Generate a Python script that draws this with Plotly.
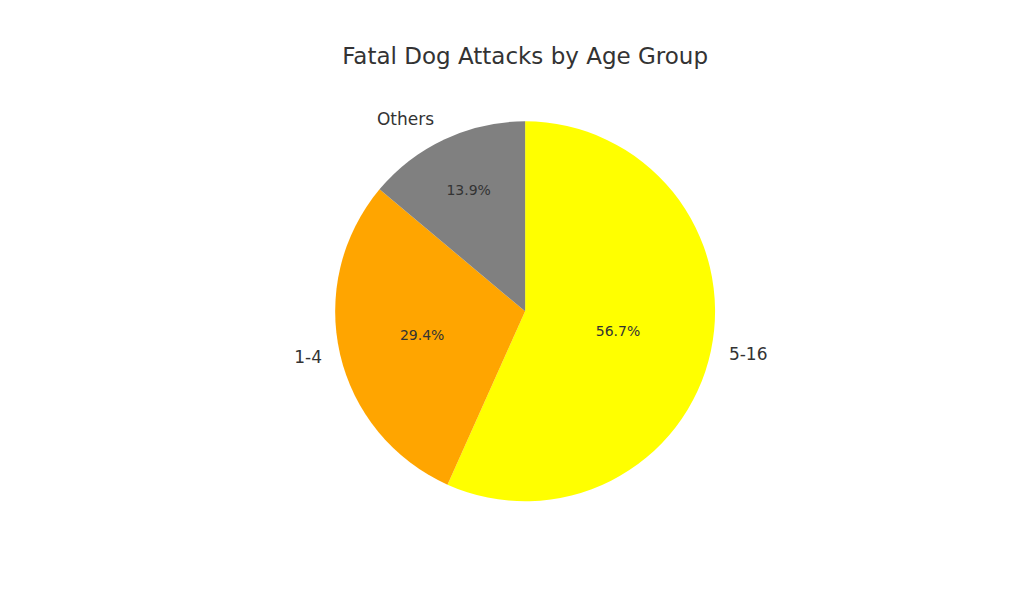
import plotly.graph_objects as go

# 数据
age_groups = ['5-16', '1-4', 'Others']
shares = [56.7, 29.4, 13.9]
slice_colors = ['#ffff00', '#ffa500', '#808080']

# 饼图中心与半径（页面比例）
cx, cy = 0.505, 0.506
rx, ry = 0.1855, 0.3095

pie_domain = dict(x=[cx - rx, cx + rx], y=[cy - ry, cy + ry])
k = 1.07  # 外部标签稍微离开边缘
label_domain = dict(x=[cx - rx * k, cx + rx * k], y=[cy - ry * k, cy + ry * k])

fig = go.Figure()

# 扇区 + 百分比
fig.add_trace(go.Pie(
    labels=age_groups,
    values=shares,
    sort=False,
    direction='clockwise',
    rotation=0,
    marker=dict(colors=slice_colors, line=dict(width=0)),
    textinfo='percent',
    texttemplate='%{percent:.1%}',
    textposition='inside',
    insidetextorientation='horizontal',
    textfont=dict(family='DejaVu Sans', size=14, color='#333333'),
    domain=pie_domain,
    hoverinfo='label+percent',
    showlegend=False,
))

# 外部标签（透明覆盖层）
fig.add_trace(go.Pie(
    labels=age_groups,
    values=shares,
    sort=False,
    direction='clockwise',
    rotation=0,
    marker=dict(colors=['rgba(0,0,0,0)'] * 3, line=dict(width=0)),
    textinfo='label',
    textposition='outside',
    outsidetextfont=dict(family='DejaVu Sans', size=17, color='#333333'),
    domain=label_domain,
    hoverinfo='skip',
    showlegend=False,
))

fig.update_layout(
    width=1024,
    height=614,
    margin=dict(l=0, r=0, t=0, b=0),
    paper_bgcolor='white',
    plot_bgcolor='white',
    title=dict(
        text='Fatal Dog Attacks by Age Group',
        x=0.505, xanchor='center',
        y=0.922, yanchor='middle', yref='container',
        font=dict(family='DejaVu Sans', size=23, color='#333333'),
    ),
)

fig.write_html("out.html")
